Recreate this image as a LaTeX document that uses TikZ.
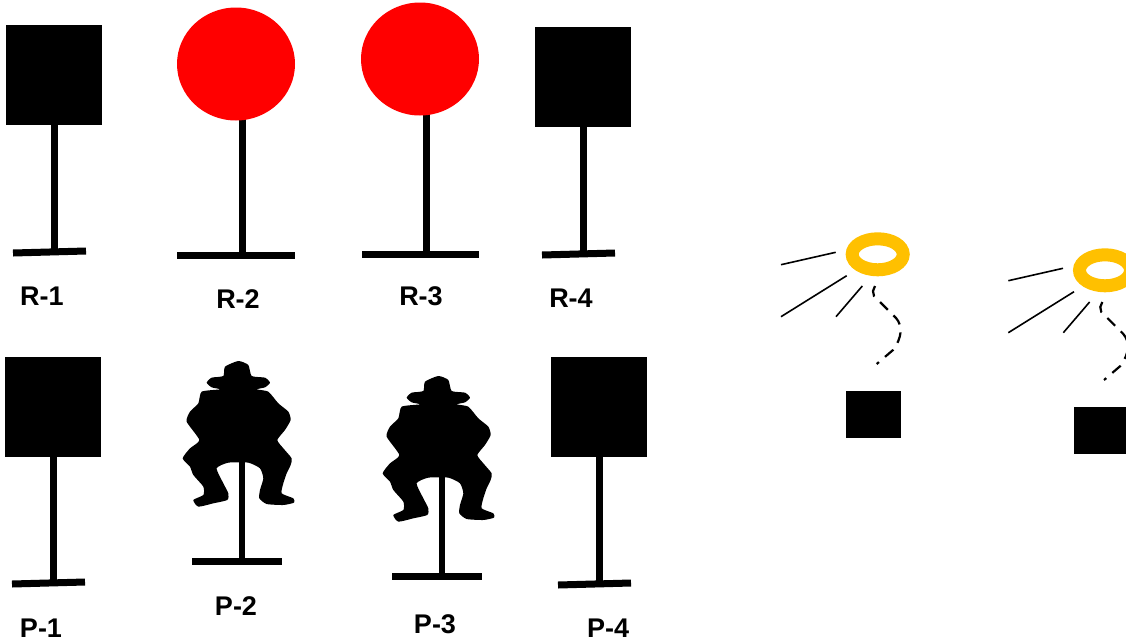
\documentclass[tikz,border=0pt]{standalone}
\usepackage{fontspec}
\setmainfont{Liberation Sans}
\usetikzlibrary{shapes.geometric}
\definecolor{ringgold}{HTML}{FFC000}
\tikzset{
  board/.style={rectangle,fill=black,inner sep=0pt,minimum width=96pt,minimum height=100pt},
  disc/.style={ellipse,fill=red,inner sep=0pt,minimum width=118pt,minimum height=113pt},
  post/.style={line width=7pt},
  thinpost/.style={line width=6pt},
  foot/.style={line width=7pt},
  tag/.style={font=\fontsize{27pt}{30pt}\selectfont\bfseries,inner sep=0pt},
  ring/.style={ellipse,draw=ringgold,line width=13pt,fill=white,inner sep=0pt,minimum width=51pt,minimum height=31pt},
  ray/.style={line width=1.6pt},
  trail/.style={line width=2.2pt,dash pattern=on 11pt off 8pt},
  block/.style={rectangle,fill=black,inner sep=0pt,minimum width=55pt,minimum height=47pt},
}
\newcommand{\gunman}[2]{%
  \fill[black,shift={(#1,#2)},x=0.3333pt,y=-0.3333pt] plot[smooth cycle,tension=0.35] coordinates {
  (205,33)(235,45)(245,78)(285,83)(300,98)(285,112)(260,118)(295,125)(325,160)(355,185)(362,210)(345,240)(322,270)(340,295)(365,325)(362,345)(350,370)(340,400)(335,430)(370,445)(372,458)(340,465)(290,462)(268,445)(270,420)(280,385)(270,355)(235,338)(175,338)(140,355)(160,400)(175,430)(172,450)(130,460)(85,470)(70,450)(100,435)(100,410)(70,375)(60,350)(38,325)(60,295)(88,270)(50,215)(60,185)(85,160)(95,125)(150,118)(125,112)(110,98)(125,83)(160,78)(165,50)};}
\begin{document}
\begin{tikzpicture}[x=1pt,y=-1pt]
\useasboundingbox (0,0) rectangle (1126,643);
% top row
\node[board] (r1) at (54,75) {};
\coordinate (r1a) at (13,253); \coordinate (r1b) at (86,251); \coordinate (r1c) at (54,252);
\draw[post] (r1.south) -- (r1c); \draw[foot] (r1a) -- (r1b);
\coordinate (r2t) at (242,110); \coordinate (r2c) at (242,255);
\coordinate (r2a) at (177,255); \coordinate (r2b) at (295,255);
\draw[post] (r2t) -- (r2c); \draw[foot] (r2a) -- (r2b);
\node[disc] (r2) at (236,64) {};
\coordinate (r3t) at (426,105); \coordinate (r3c) at (426,254);
\coordinate (r3a) at (362,254); \coordinate (r3b) at (479,254);
\draw[post] (r3t) -- (r3c); \draw[foot] (r3a) -- (r3b);
\node[disc] (r3) at (420,59) {};
\node[board] (r4) at (583,77) {};
\coordinate (r4a) at (542,255); \coordinate (r4b) at (615,253); \coordinate (r4c) at (583,254);
\draw[post] (r4.south) -- (r4c); \draw[foot] (r4a) -- (r4b);
% bottom row
\node[board] (p1) at (53,407) {};
\coordinate (p1a) at (12,584); \coordinate (p1b) at (85,582); \coordinate (p1c) at (53,583);
\draw[post] (p1.south) -- (p1c); \draw[foot] (p1a) -- (p1b);
\coordinate (p2t) at (242,455); \coordinate (p2c) at (242,561);
\coordinate (p2a) at (192,561); \coordinate (p2b) at (282,561);
\draw[thinpost] (p2t) -- (p2c); \draw[foot] (p2a) -- (p2b);
\gunman{170}{350}
\fill[white] (237.5,463.5) rectangle (239,475);
\draw[thinpost] (p2t) -- (p2c);
\coordinate (p3t) at (442,470); \coordinate (p3c) at (442,576);
\coordinate (p3a) at (392,576); \coordinate (p3b) at (482,576);
\draw[foot] (p3a) -- (p3b);
\gunman{370}{365}
\draw[thinpost] (p3t) -- (p3c);
\node[board] (p4) at (599,407) {};
\coordinate (p4a) at (558,585); \coordinate (p4b) at (631,583); \coordinate (p4c) at (599,584);
\draw[post] (p4.south) -- (p4c); \draw[foot] (p4a) -- (p4b);
% labels
\node[tag] (lr1) at (42,296) {R-1};
\node[tag] (lr2) at (238,299) {R-2};
\node[tag] (lr3) at (421,296) {R-3};
\node[tag] (lr4) at (571,298) {R-4};
\node[tag] (lp1) at (41,628) {P-1};
\node[tag] (lp2) at (236,606) {P-2};
\node[tag] (lp3) at (435,624) {P-3};
\node[tag] (lp4) at (608,628) {P-4};
% first lamp
\node[ring] (l1) at (877.7,254.3) {};
\node[block] (b1) at (873.7,414.8) {};
\coordinate (a1) at (781,264.7); \coordinate (a2) at (835.7,252.3);
\coordinate (c1) at (781,316.7); \coordinate (c2) at (846.7,275.7);
\coordinate (d1) at (836,316.7); \coordinate (d2) at (862.3,286);
\draw[ray] (a1) -- (a2); \draw[ray] (c1) -- (c2); \draw[ray] (d1) -- (d2);
\coordinate (e1) at (875,286); \coordinate (e2) at (876.7,364);
\draw[trail] (e1) -- (873,291) -- (874,296) -- (896,318) .. controls (903,326) and (902,338) .. (893,350) -- (e2);
% second lamp
\node[ring] (l2) at (1105,270.3) {};
\node[block] (b2) at (1101,430.8) {};
\coordinate (f1) at (1008.3,280.7); \coordinate (f2) at (1063,268.3);
\coordinate (g1) at (1008.3,332.7); \coordinate (g2) at (1074,291.7);
\coordinate (h1) at (1063.3,332.7); \coordinate (h2) at (1089.6,302);
\draw[ray] (f1) -- (f2); \draw[ray] (g1) -- (g2); \draw[ray] (h1) -- (h2);
\coordinate (i1) at (1102.3,302); \coordinate (i2) at (1104,380);
\draw[trail] (i1) -- (1100.3,307) -- (1101.3,312) -- (1123.3,334) .. controls (1130.3,342) and (1129.3,354) .. (1120.3,366) -- (i2);
\end{tikzpicture}
\end{document}
